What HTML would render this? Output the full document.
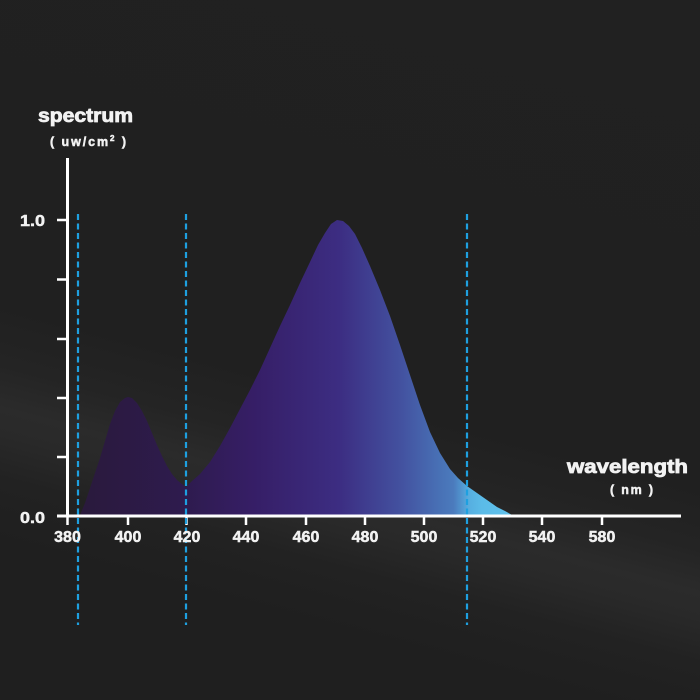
<!DOCTYPE html>
<html><head><meta charset="utf-8"><style>
html,body{margin:0;padding:0;}
body{width:700px;height:700px;overflow:hidden;background:linear-gradient(194.8deg,#212121 0%,#202020 55%,#242424 62%,#2b2b2b 67%,#292929 70%,#222222 75%,#1f1f1f 82%,#1f1f1f 100%);}
svg{display:block;}
text{font-family:"Liberation Sans",Arial,sans-serif;font-weight:bold;fill:#f2f2f2;stroke:#f2f2f2;stroke-width:0.5;}
</style></head><body>
<svg width="700" height="700" viewBox="0 0 700 700" xmlns="http://www.w3.org/2000/svg">
<defs>
<linearGradient id="fillg" gradientUnits="userSpaceOnUse" x1="80" y1="0" x2="512" y2="0">
<stop offset="0" stop-color="#2a1a3c"/>
<stop offset="0.245" stop-color="#2e1b4e"/>
<stop offset="0.4" stop-color="#361e66"/>
<stop offset="0.6" stop-color="#3c2d82"/>
<stop offset="0.745" stop-color="#4352a0"/>
<stop offset="0.83" stop-color="#4870b5"/>
<stop offset="0.865" stop-color="#4b7bbd"/>
<stop offset="0.9" stop-color="#56aee0"/>
<stop offset="0.93" stop-color="#5bbbe8"/>
<stop offset="1" stop-color="#5fc2ec"/>
</linearGradient>
</defs>

<path fill="url(#fillg)" d="M80,515 L85,503 L90,488 L95,473 L100,458 L105,441 L110,424 L115,411 L120,402 L125,398 L128,397 L132,398 L137,403 L142,411 L147,421 L152,433 L157,445 L162,456 L167,466 L172,474 L177,480 L182,484 L186,487 L192,481 L200,474 L210,462 L220,446 L230,428 L240,409 L250,390 L260,370 L270,348 L280,326 L290,305 L300,283 L310,262 L318,245 L325,233 L331,224 L337,220 L343,221 L349,226 L355,234 L362,248 L370,266 L380,290 L390,316 L400,345 L410,375 L420,405 L430,432 L440,453 L450,469 L458,478 L467,486 L477,493 L487,500 L497,507 L505,511 L512,515 Z"/>

<line x1="67.5" y1="158" x2="67.5" y2="517" stroke="#fff" stroke-width="3"/>
<line x1="57" y1="516" x2="681" y2="516" stroke="#fff" stroke-width="3"/>
<g stroke="#fff" stroke-width="2.5">
<line x1="57" y1="220" x2="67" y2="220"/>
<line x1="57" y1="279.5" x2="67" y2="279.5"/>
<line x1="57" y1="339" x2="67" y2="339"/>
<line x1="57" y1="398" x2="67" y2="398"/>
<line x1="57" y1="457" x2="67" y2="457"/>
<line x1="67.5" y1="516" x2="67.5" y2="525"/>
<line x1="128" y1="516" x2="128" y2="525"/>
<line x1="186.5" y1="516" x2="186.5" y2="525"/>
<line x1="246" y1="516" x2="246" y2="525"/>
<line x1="306" y1="516" x2="306" y2="525"/>
<line x1="365" y1="516" x2="365" y2="525"/>
<line x1="424" y1="516" x2="424" y2="525"/>
<line x1="483" y1="516" x2="483" y2="525"/>
<line x1="542" y1="516" x2="542" y2="525"/>
<line x1="602" y1="516" x2="602" y2="525"/>
</g>

<g stroke="#1ea0e0" stroke-width="2.2" stroke-dasharray="6,3.5">
<line x1="78" y1="214" x2="78" y2="625"/>
<line x1="186" y1="214" x2="186" y2="625"/>
<line x1="467" y1="214" x2="467" y2="625"/>
</g>

<text x="38" y="122" font-size="19" textLength="95" lengthAdjust="spacingAndGlyphs" style="stroke-width:0.8">spectrum</text>
<text x="50" y="146" font-size="12.5" textLength="76" lengthAdjust="spacing">( uw/cm<tspan font-size="8" dy="-5">2</tspan><tspan dy="5"> )</tspan></text>
<text x="567" y="473" font-size="19" textLength="121" lengthAdjust="spacingAndGlyphs" style="stroke-width:0.8">wavelength</text>
<text x="610" y="494" font-size="12.5" textLength="43" lengthAdjust="spacing">( nm )</text>

<text x="20" y="226" font-size="16" textLength="25" lengthAdjust="spacingAndGlyphs">1.0</text>
<text x="20" y="523" font-size="16" textLength="25" lengthAdjust="spacingAndGlyphs">0.0</text>

<g font-size="16" text-anchor="middle">
<text x="67.5" y="542">380</text>
<text x="128" y="542">400</text>
<text x="187" y="542">420</text>
<text x="246" y="542">440</text>
<text x="306" y="542">460</text>
<text x="365" y="542">480</text>
<text x="424" y="542">500</text>
<text x="483" y="542">520</text>
<text x="542" y="542">540</text>
<text x="602" y="542">580</text>
</g>
</svg>
</body></html>
